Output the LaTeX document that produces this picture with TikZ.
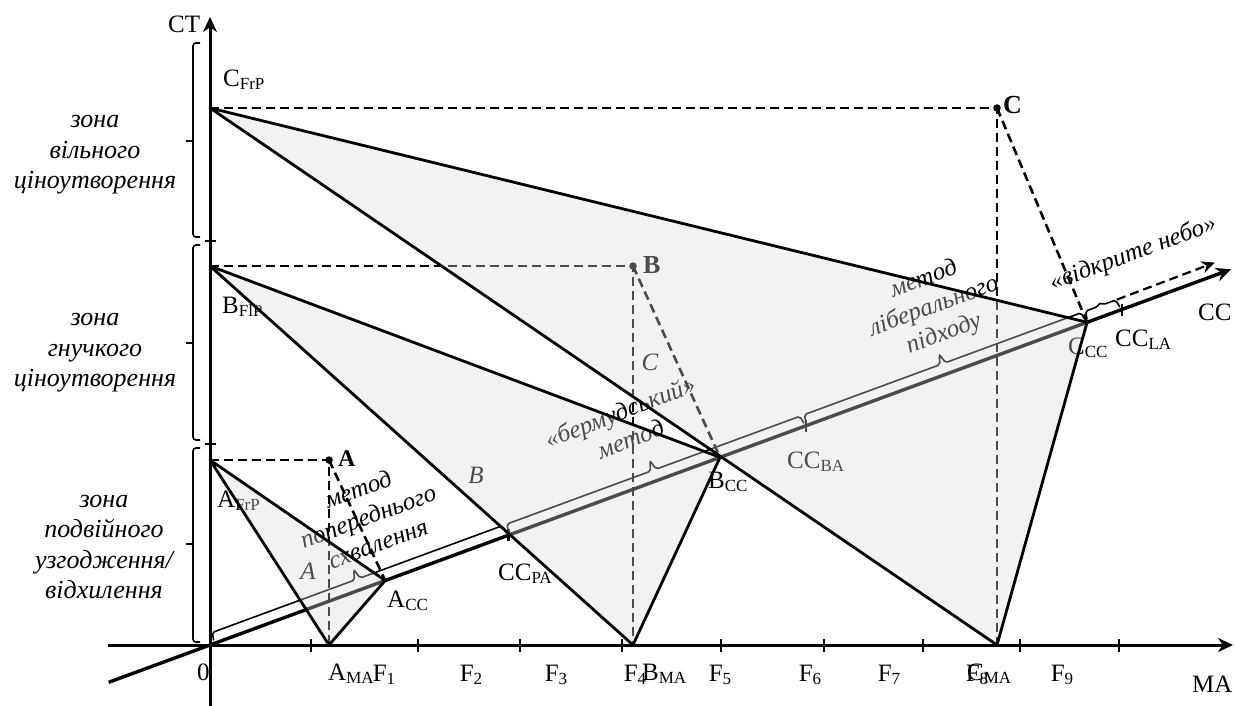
\documentclass[tikz,border=0pt]{standalone}
\usepackage{fontspec}
\setmainfont{Liberation Serif}
\usetikzlibrary{arrows.meta,calc}
\newcommand{\lsub}[1]{\raisebox{-3pt}{\fontsize{17}{17}\selectfont #1}}
\newcommand{\ccbrace}[3]{\draw[brk] (#1+1,-3) -- (#1+2.5,-11) -- ({(#1+#2)/2-3},-11) -- ({(#1+#2)/2},-#3) -- ({(#1+#2)/2+3},-11) -- (#2-2.5,-11) -- (#2-1,-3);}
\begin{document}
\begin{tikzpicture}[x=1pt,y=-1pt,
  font=\fontsize{25}{30}\selectfont,
  axisline/.style={line width=3pt},
  ccline/.style={line width=3.4pt},
  triedge/.style={line width=2.8pt, line join=round},
  dsh/.style={line width=2.6pt, dash pattern=on 9pt off 5pt},
  brk/.style={line width=1.6pt, rounded corners=2pt},
  tickmark/.style={line width=2.2pt},
  lbl/.style={inner sep=0pt, anchor=base west},
  flbl/.style={inner sep=0pt, anchor=base},
  zone/.style={font=\fontsize{26}{30.5}\selectfont\itshape, align=center, inner sep=0pt},
  meth/.style={font=\fontsize{25}{29}\selectfont\itshape, align=center, inner sep=0pt, rotate=20.2},
  region/.style={font=\fontsize{25}{30}\selectfont\itshape, inner sep=0pt},
  boldlbl/.style={font=\fontsize{26}{30}\selectfont\bfseries, inner sep=0pt, anchor=base west},
  dotm/.style={circle, fill, inner sep=0pt, minimum size=7.5pt},
  veil/.style={fill=black!15, fill opacity=0.35},
  arrowhd/.style={-{Stealth[length=15pt,width=14pt]}}
]
\useasboundingbox (0,0) rectangle (1235,706);

% ---- key points
\coordinate (O) at (210,645);
\coordinate (CFrP) at (210,108);
\coordinate (BFlP) at (210,266);
\coordinate (AFrP) at (210,460);
\coordinate (A) at (329,460);
\coordinate (B) at (633,266);
\coordinate (C) at (997,108);
\coordinate (AMA) at (329,645);
\coordinate (BMA) at (633,645);
\coordinate (CMA) at (997,645);
\coordinate (MAstart) at (108,645);
\coordinate (MAend) at (1233,645);
\coordinate (CTstart) at (210,706);
\coordinate (CTend) at (210,17);

\begin{scope}[shift={(210,645)}, rotate=20.2]
  \coordinate (CCstart) at (-108,0);
  \coordinate (ACC) at (186.7,0);
  \coordinate (CCPA) at (318,0);
  \coordinate (BCC) at (543.5,0);
  \coordinate (CCBA) at (635,0);
  \coordinate (CCC) at (934.6,0);
  \coordinate (CCLA) at (971.6,0);
  \coordinate (CCend) at (1088,0);
  \coordinate (DA1) at (970.5,-11);
  \coordinate (DA2) at (1075,-12);
  \ccbrace{4}{318}{21}
  \ccbrace{318}{635}{21}
  \ccbrace{635}{934.6}{21}
  \ccbrace{934.6}{971.6}{14}
\end{scope}

% ---- axes
\draw[axisline, arrowhd] (MAstart) -- (MAend);
\draw[axisline, arrowhd] (CTstart) -- (CTend);
\draw[ccline, arrowhd] (CCstart) -- (CCend);
\foreach \x in {311,418,520,622,721,824,923,1020,1119}
  \draw[tickmark] (\x,639) -- (\x,652);
\draw[tickmark] (205,241) -- (216,241);
\draw[tickmark] (205,444) -- (216,444);
\foreach \p in {CCPA,CCBA,CCLA}
  \draw[tickmark] ($(\p)+(0,-6)$) -- ($(\p)+(0,6)$);

% ---- zone brackets
\draw[brk, rounded corners=3pt] (200,43) -- (193,43) -- (193,237) -- (200,237);
\draw[brk] (193,141) -- (186,141);
\draw[brk, rounded corners=3pt] (200,245) -- (193,245) -- (193,440) -- (200,440);
\draw[brk] (193,343) -- (186,343);
\draw[brk, rounded corners=3pt] (200,448) -- (193,448) -- (193,642) -- (200,642);
\draw[brk] (193,544) -- (186,544);

\node[zone] (z1) at (95,155) {зона\\вільного\\ціноутворення};
\node[zone] (z2) at (95,353) {зона\\гнучкого\\ціноутворення};
\node[zone] (z3) at (104,547) {зона\\подвійного\\узгодження/\\відхилення};

% ---- dashed projections
\draw[dsh] (AFrP) -- (A) -- (AMA);
\draw[dsh] (A) -- (ACC);
\draw[dsh] (BFlP) -- (B) -- (BMA);
\draw[dsh] (B) -- (BCC);
\draw[dsh] (CFrP) -- (C) -- (CMA);
\draw[dsh] (C) -- (CCC);
\draw[dsh, line width=2.2pt, -{Stealth[length=13pt,width=12pt]}] (DA1) -- (DA2);

\node[dotm] (Adot) at (A) {};
\node[dotm] (Bdot) at (B) {};
\node[dotm] (Cdot) at (C) {};
\node[boldlbl, font=\fontsize{24}{28}\selectfont\bfseries] (Alab) at (338,466) {A};
\node[boldlbl] (Blab) at (643,273) {B};
\node[boldlbl] (Clab) at (1003,114) {C};

% ---- method texts
\node[meth] (m1) at (368,516) {метод\\попереднього\\схвалення};
\node[meth, rotate=0.8] (m2) at (625,425) {«бермудський»\\метод};
\node[meth] (m3) at (934,307) {метод\\ліберального\\підходу};
\node[meth] (m4) at (1133,254) {«відкрите небо»};

\node[region] (rA) at (308,571) {A};
\node[region] (rB) at (476,475) {B};
\node[region] (rC) at (650,362) {C};

% ---- labels
\node[lbl] (lCT) at (168,33) {CT};
\node[lbl] (lCFrP) at (223,87) {C\lsub{FrP}};
\node[lbl] (lBFlP) at (222,313) {B\lsub{FlP}};
\node[lbl] (lAFrP) at (217,507) {A\lsub{FrP}};
\node[lbl] (lACC) at (387,607) {A\lsub{CC}};
\node[lbl] (lCCPA) at (498,580) {CC\lsub{PA}};
\node[lbl] (lBCC) at (708,488) {B\lsub{CC}};
\node[lbl] (lCCBA) at (787,468) {CC\lsub{BA}};
\node[lbl] (lCCC) at (1068,354) {C\lsub{CC}};
\node[lbl] (lCCLA) at (1115,346) {CC\lsub{LA}};
\node[lbl] (lCC) at (1198,320) {CC};
\node[lbl] (lMA) at (1192,692) {MA};
\node[lbl] (l0) at (197,680) {0};
\node[lbl] (lAMA) at (328,680) {A\lsub{MA}};
\node[lbl] (lBMA) at (642,680) {B\lsub{MA}};
\node[lbl] (lCMA) at (967,680) {C\lsub{MA}};
\node[flbl] (F1) at (384,681) {F\lsub{1}};
\node[flbl] (F2) at (471,681) {F\lsub{2}};
\node[flbl] (F3) at (556,681) {F\lsub{3}};
\node[flbl] (F4) at (635,681) {F\lsub{4}};
\node[flbl] (F5) at (720,681) {F\lsub{5}};
\node[flbl] (F6) at (810,681) {F\lsub{6}};
\node[flbl] (F7) at (889,681) {F\lsub{7}};
\node[flbl] (F8) at (977,681) {F\lsub{8}};
\node[flbl] (F9) at (1062,681) {F\lsub{9}};

% ---- translucent fields
\fill[veil] (AFrP) -- (ACC) -- (AMA) -- cycle;
\fill[veil] (BFlP) -- (BCC) -- (BMA) -- cycle;
\fill[veil] (CFrP) -- (CCC) -- (CMA) -- cycle;

% ---- triangle edges
\draw[triedge] (AFrP) -- (ACC) -- (AMA) -- cycle;
\draw[triedge] (BFlP) -- (BCC) -- (BMA) -- cycle;
\draw[triedge] (CFrP) -- (CCC) -- (CMA) -- cycle;
\end{tikzpicture}
\end{document}
